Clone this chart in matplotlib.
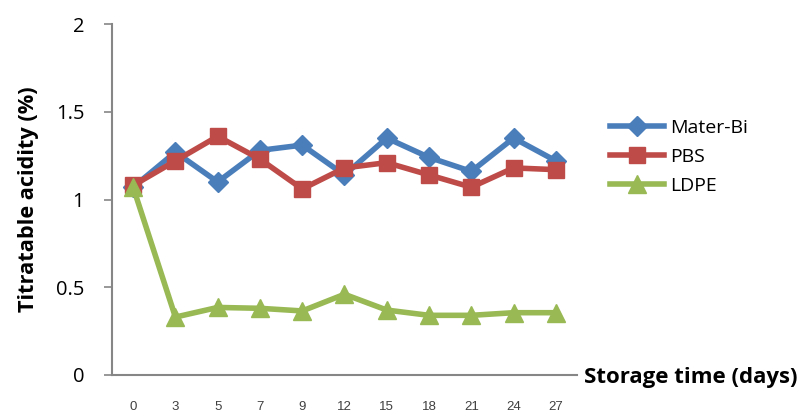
import matplotlib
matplotlib.use("Agg")
import matplotlib.pyplot as plt
from matplotlib import font_manager

days = ["0", "3", "5", "7", "9", "12", "15", "18", "21", "24", "27"]
mater_bi = [1.07, 1.27, 1.10, 1.28, 1.31, 1.14, 1.35, 1.24, 1.16, 1.35, 1.22]
pbs = [1.08, 1.22, 1.36, 1.23, 1.06, 1.18, 1.21, 1.14, 1.07, 1.18, 1.17]
ldpe = [1.07, 0.33, 0.385, 0.38, 0.365, 0.46, 0.37, 0.34, 0.34, 0.355, 0.355]
yticks = [0, 0.5, 1, 1.5, 2]
ytick_labels = ["0", "0.5", "1", "1.5", "2"]

main_font = ["Open Sans", "DejaVu Sans"]
names = {f.name for f in font_manager.fontManager.ttflist}
narrow = "Liberation Sans Narrow" if "Liberation Sans Narrow" in names else "Liberation Sans"

fig = plt.figure(figsize=(8.03, 4.17), dpi=100)
W, H = 803, 417
ax = fig.add_axes([112 / W, 42 / H, (577 - 112) / W, (375 - 24) / H])

x = list(range(len(days)))
ax.plot(x, mater_bi, color="#4a7ebb", lw=4, marker="D", ms=10, label="Mater-Bi", zorder=3)
ax.plot(x, pbs, color="#be4b48", lw=4, marker="s", ms=11, label="PBS", zorder=4)
ax.plot(x, ldpe, color="#98b954", lw=4, marker="^", ms=13, label="LDPE", zorder=5)

ax.set_xlim(-0.5, len(days) - 0.5)
ax.set_ylim(0, 2)
ax.set_yticks(yticks)
ax.set_yticklabels(ytick_labels, fontfamily=main_font, fontsize=14.5)
ax.set_xticks(x)
ax.set_xticklabels(days, fontfamily=narrow, fontsize=9.5, color="#404040")
ax.tick_params(axis="x", length=0, pad=19)
ax.tick_params(axis="y", length=6, width=1.2, color="#868686", pad=14)

for s in ["top", "right"]:
    ax.spines[s].set_visible(False)
for s in ["left", "bottom"]:
    ax.spines[s].set_color("#868686")
    ax.spines[s].set_linewidth(1.5)

ax.set_ylabel("Titratable acidity (%)", fontfamily=main_font, fontsize=15.7, fontweight="bold", labelpad=12)
fig.text(584 / W, 1 - 377 / H, "Storage time (days)", fontfamily=main_font, fontsize=16,
         fontweight="bold", va="center", ha="left")

leg = fig.legend(loc="center left", bbox_to_anchor=(610 / W, 1 - 157 / H), frameon=False,
                 prop={"family": main_font, "size": 14}, handlelength=2.8, labelspacing=0.55,
                 handletextpad=0.3, borderaxespad=0, borderpad=0)

fig.savefig("out.png", dpi=100)
